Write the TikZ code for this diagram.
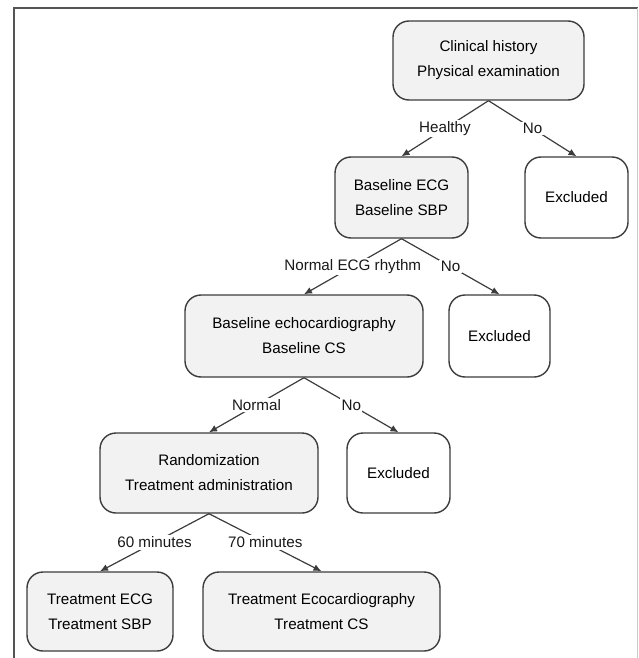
\documentclass[tikz,border=0pt]{standalone}
\usepackage{fontspec}
\setmainfont{Liberation Sans}
\usepackage{tikz}
\usetikzlibrary{arrows.meta,positioning}
\definecolor{linegray}{HTML}{3C3C3C}
\definecolor{boxgray}{HTML}{F2F2F2}
\definecolor{framegray}{HTML}{555555}
\definecolor{edgegray}{HTML}{C8C8C8}
\tikzset{
  stage/.style   = {draw=linegray, line width=1.4pt, rounded corners=16pt,
                    fill=boxgray, align=center, inner sep=0pt},
  outbox/.style  = {stage, fill=white},
  flow/.style    = {-{Latex[length=8pt,width=7pt]}, draw=linegray, line width=1.2pt},
  cond/.style    = {fill=white, inner sep=1.5pt, text=black!90},
}

\begin{document}
\begin{tikzpicture}[x=1pt,y=-1pt,font=\fontsize{15.2}{25}\selectfont]
\useasboundingbox (0,0) rectangle (638,658);
% ---------- frame ----------
\draw[framegray, line width=2pt] (14,658) -- (14,8) -- (638,8);
\draw[edgegray, line width=1pt] (637,8) -- (637,658);
% ---------- boxes ----------
\node[stage, minimum width=191, minimum height=79] (clin) at (488.5,60.5)
  {Clinical history\\Physical examination};
\node[stage, minimum width=133, minimum height=81] (bECG) at (401.5,197.5)
  {Baseline ECG\\Baseline SBP};
\node[outbox, minimum width=103, minimum height=81] (excA) at (576.5,197.5) {Excluded};
\node[stage, minimum width=238, minimum height=82] (echo) at (304,336)
  {Baseline echocardiography\\Baseline CS};
\node[outbox, minimum width=101, minimum height=82] (excB) at (499.5,336) {Excluded};
\node[stage, minimum width=218, minimum height=80] (rand) at (209,473)
  {Randomization\\Treatment administration};
\node[outbox, minimum width=103, minimum height=80] (excC) at (398.5,473) {Excluded};
\node[stage, minimum width=146, minimum height=79] (tECG) at (100,611.5)
  {Treatment ECG\\Treatment SBP};
\node[stage, minimum width=237, minimum height=79] (tEcho) at (321.5,611.5)
  {Treatment Ecocardiography\\Treatment CS};
% ---------- connectors ----------
\draw[flow] (clin.south) -- node[cond]{Healthy} (bECG.north);
\draw[flow] (clin.south) -- node[cond]{No} (excA.north);
\draw[flow] (bECG.south) -- node[cond]{Normal ECG rhythm} (echo.north);
\draw[flow] (bECG.south) -- node[cond]{No} (excB.north);
\draw[flow] (echo.south) -- node[cond]{Normal} (rand.north);
\draw[flow] (echo.south) -- node[cond]{No} (excC.north);
\draw[flow] (rand.south) -- node[cond]{60 minutes} (tECG.north);
\draw[flow] (rand.south) -- node[cond]{70 minutes} (tEcho.north);
\end{tikzpicture}
\end{document}
